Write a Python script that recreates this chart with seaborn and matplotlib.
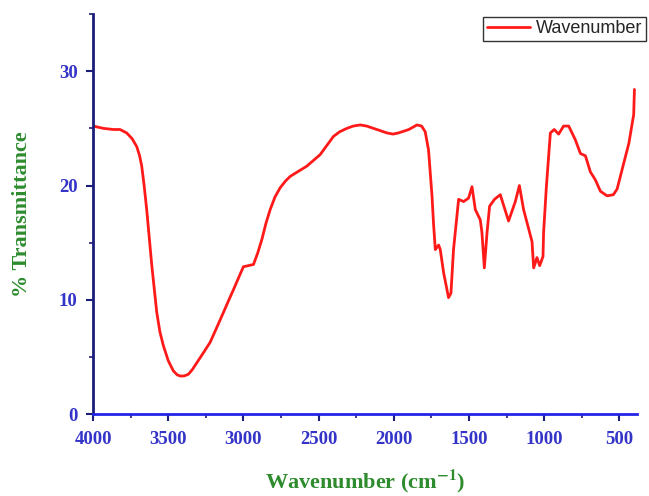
import matplotlib
matplotlib.use("Agg")
import matplotlib.pyplot as plt
import seaborn as sns
import pandas as pd
from matplotlib.ticker import MultipleLocator

# FTIR spectrum
wavenumber = [4000, 3930, 3865, 3820, 3776, 3740, 3709, 3690, 3676, 3660,
              3643, 3609, 3576, 3555, 3532, 3500, 3466, 3440, 3421, 3395,
              3366, 3340, 3310, 3265, 3221, 3180, 3133, 3100, 3066, 3030,
              3000, 2933, 2905, 2877, 2850, 2822, 2790, 2756, 2720, 2689,
              2640, 2578, 2490, 2440, 2401, 2360, 2312, 2270, 2223, 2180,
              2135, 2090, 2046, 2005, 1969, 1900, 1846, 1815, 1791, 1769,
              1746, 1736, 1724, 1702, 1691, 1669, 1636, 1620, 1603, 1569,
              1536, 1503, 1480, 1458, 1425, 1414, 1398, 1380, 1363, 1330,
              1292, 1237, 1192, 1165, 1137, 1103, 1081, 1070, 1048, 1030,
              1008, 1004, 986, 959, 933, 904, 871, 837, 793, 759,
              726, 693, 660, 626, 582, 540, 515, 482, 437, 405,
              400]
transmittance = [25.2, 25.0, 24.9, 24.9, 24.6, 24.1, 23.4, 22.6, 21.7, 20.0,
                 17.9, 13.0, 8.9, 7.2, 6.0, 4.7, 3.8, 3.45, 3.35, 3.35,
                 3.5, 3.9, 4.5, 5.4, 6.3, 7.5, 8.9, 9.9, 10.9, 12.0,
                 12.9, 13.1, 14.1, 15.3, 16.7, 17.9, 19.0, 19.8, 20.4, 20.8,
                 21.2, 21.7, 22.7, 23.6, 24.3, 24.7, 25.0, 25.2, 25.3, 25.2,
                 25.0, 24.8, 24.6, 24.5, 24.6, 24.9, 25.3, 25.2, 24.7, 23.1,
                 19.1, 16.7, 14.4, 14.8, 14.4, 12.4, 10.2, 10.6, 14.4, 18.8,
                 18.6, 18.9, 19.9, 17.9, 17.0, 15.9, 12.8, 15.9, 18.2, 18.8,
                 19.2, 16.9, 18.6, 20.0, 17.9, 16.2, 15.1, 12.8, 13.7, 13.0,
                 13.8, 15.9, 19.8, 24.6, 24.9, 24.5, 25.2, 25.2, 24.0, 22.8,
                 22.6, 21.2, 20.5, 19.5, 19.1, 19.2, 19.7, 21.4, 23.7, 26.2,
                 28.4]

x_ticks = [4000, 3500, 3000, 2500, 2000, 1500, 1000, 500]
y_ticks = [0, 10, 20, 30]

df = pd.DataFrame({"wavenumber": wavenumber, "transmittance": transmittance})

sns.set_style("white")
plt.rcParams["mathtext.fontset"] = "stix"
fig = plt.figure(figsize=(6.49, 4.96), dpi=100)
ax = fig.add_axes([0.1433, 0.1647, 0.8382, 0.8071])

sns.lineplot(data=df, x="wavenumber", y="transmittance", ax=ax,
             color="#ff1a1a", linewidth=2, label="Wavenumber", sort=False)

ax.set_xlim(4000, 383)
ax.set_ylim(0, 35)
ax.set_xticks(x_ticks)
ax.set_yticks(y_ticks)
ax.xaxis.set_minor_locator(MultipleLocator(250))
ax.yaxis.set_minor_locator(MultipleLocator(5))

for side in ["top", "right"]:
    ax.spines[side].set_visible(False)
ax.spines["left"].set_color("#1c1c7a")
ax.spines["left"].set_linewidth(2)
ax.spines["bottom"].set_color("#2424e6")
ax.spines["bottom"].set_linewidth(2)

ax.tick_params(axis="both", which="both", bottom=True, left=True,
               direction="out", color="#1c1c7a")
ax.tick_params(axis="y", which="major", length=5, width=1.5, pad=6)
ax.tick_params(axis="y", which="minor", length=3, width=1.2)
ax.tick_params(axis="x", which="major", length=5, width=1.5, pad=7)
ax.tick_params(axis="x", which="minor", length=3, width=1.2)

for lbl in ax.get_xticklabels() + ax.get_yticklabels():
    lbl.set_family("Liberation Serif")
    lbl.set_fontweight("bold")
    lbl.set_fontsize(13.5)
    lbl.set_color("#3434c8")

ax.set_xlabel(r"Wavenumber (cm$^{\mathbf{-1}}$)", family="Liberation Serif",
              fontweight="bold", fontsize=16, color="#2e8b2e")
ax.xaxis.set_label_coords(0.5, -0.134)
ax.set_ylabel("% Transmittance", family="Liberation Serif", fontweight="bold",
              fontsize=16, color="#2e8b2e")
ax.yaxis.set_label_coords(-0.112, 0.5)

leg = ax.legend(loc="upper right", bbox_to_anchor=(0.995, 0.966),
                bbox_transform=fig.transFigure, frameon=True, fancybox=False,
                prop={"family": "Liberation Sans", "size": 13},
                handlelength=2.4, borderpad=0.2, handletextpad=0.3,
                borderaxespad=0)
leg.get_frame().set_edgecolor("black")
leg.get_frame().set_linewidth(1)

fig.savefig("out.png", dpi=100)
